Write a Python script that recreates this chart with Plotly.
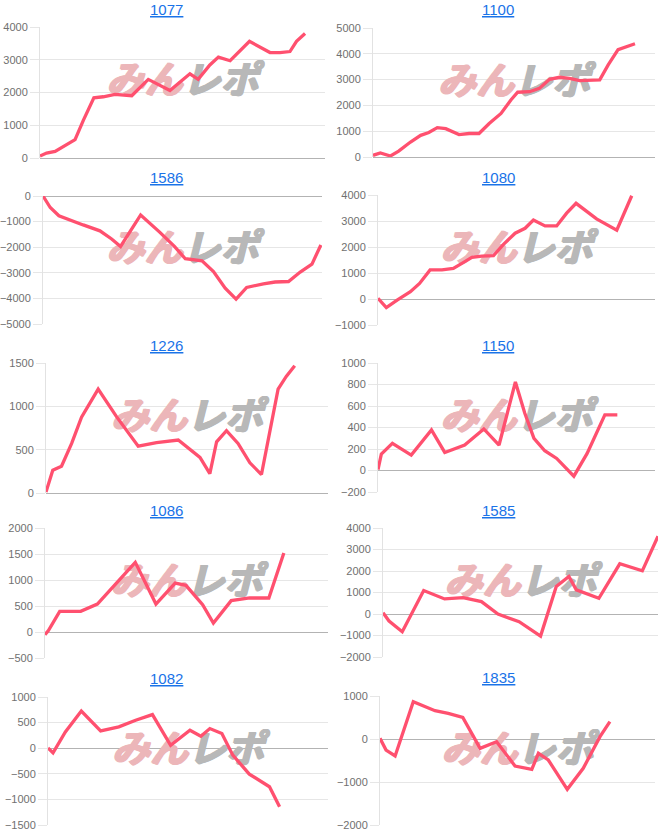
import plotly.graph_objects as go

# ── Data (x = position along the period, 0–100; y = profit) ────────────────
codes = ["1077", "1100", "1586", "1080", "1226", "1150", "1086", "1585", "1082", "1835"]

x_1077 = [0, 2.3, 5.3, 8.8, 12.3, 15.2, 18.9, 22.2, 26.3, 32.2, 38, 45.6, 52.6, 55.5,
          59.6, 62.6, 66.7, 73.5, 80.7, 84.2, 87.7, 90, 93]
y_1077 = [60, 150, 200, 390, 560, 1150, 1840, 1870, 1940, 1900, 2400, 2060, 2570, 2400,
          2840, 3080, 2970, 3560, 3220, 3220, 3250, 3560, 3800]

x_1100 = [0, 2.6, 6.2, 9.1, 13.3, 16.9, 19.8, 22.8, 25.8, 30.5, 34.1, 37.6, 41.2, 45.4,
          48.9, 51.3, 55.5, 59, 62.6, 66.2, 69.7, 73.3, 80.4, 83.4, 86.9, 89.9, 92.9]
y_1100 = [65, 155, 40, 230, 580, 840, 950, 1140, 1100, 870, 910, 910, 1300, 1690,
          2210, 2510, 2530, 2660, 3010, 3090, 3050, 2960, 2990, 3570, 4160, 4290, 4390]

x_1586 = [0, 2.6, 5.7, 9.6, 14.4, 20.4, 24.6, 27.8, 35, 41.9, 47.1, 51, 57, 61.1,
          65.3, 69.2, 73, 79, 83.2, 88, 92.2, 96.4, 99.6]
y_1586 = [0, -450, -770, -940, -1130, -1360, -1680, -1970, -740, -1420, -1970, -2450,
          -2530, -2950, -3600, -4030, -3570, -3430, -3360, -3340, -2970, -2660, -1910]

x_1080 = [0, 3, 6.9, 11.7, 15, 18.8, 23.1, 27.2, 30.9, 33.9, 37.5, 41.7, 45.3, 49.5,
          53.1, 56.1, 60.3, 64.5, 68.1, 71.5, 78.9, 86.2, 91.6]
y_1080 = [25, -330, -40, 280, 600, 1120, 1120, 1180, 1410, 1600, 1650, 1670, 2100, 2530,
          2720, 3040, 2810, 2810, 3300, 3680, 3080, 2650, 3970]

x_1226 = [0, 2.4, 5.5, 9.1, 12.6, 18.5, 25, 32.7, 39.2, 46.9, 54.6, 58.1, 60.5, 64,
          68.1, 72.3, 76.4, 78.7, 82.3, 85.2, 88.2]
y_1226 = [12, 263, 309, 572, 874, 1198, 881, 541, 580, 611, 410, 224, 591, 719,
          572, 348, 213, 611, 1198, 1345, 1469]

x_1150 = [0, 1.2, 5.2, 12, 19.3, 24.1, 31.3, 38.2, 43.7, 49.6, 53, 56.3, 60.2, 64.5,
          70.7, 75.5, 81.9, 86.4]
y_1150 = [9, 153, 252, 143, 377, 168, 237, 387, 237, 823, 533, 299, 184, 112,
          -53, 159, 517, 517]

x_1086 = [0, 1.2, 5.2, 12.6, 18.5, 25.6, 31.9, 39.2, 46, 49.8, 55.7, 59.5, 65.8,
          72.3, 79.1, 84.4]
y_1086 = [-51, 26, 397, 397, 538, 962, 1340, 538, 942, 897, 526, 173, 603,
          654, 654, 1519]

x_1585 = [0, 2.2, 7, 10.9, 14.8, 22.4, 29.1, 35.8, 41.8, 49.5, 57.3, 63, 67.6, 70.3,
          78.5, 86.1, 94.3, 100]
y_1585 = [62, -327, -826, 109, 1090, 701, 763, 576, 0, -358, -1028, 1277, 1745, 1121,
          732, 2336, 2009, 3614]

x_1082 = [0, 1.8, 6.2, 11.9, 18.8, 25.3, 31.3, 37.3, 43.8, 50.7, 54.6, 57.8, 62.1,
          66, 71.9, 79.1, 82.7]
y_1082 = [6, -91, 318, 727, 338, 416, 545, 656, 58, 351, 234, 383, 286,
          -136, -506, -753, -1143]

x_1835 = [0, 2.2, 5.5, 12.1, 20, 24.8, 30.1, 36.4, 42.4, 49.1, 55.2, 57.6, 61.2,
          68.1, 73.9, 80, 83.6]
y_1835 = [16, -256, -395, 868, 659, 597, 504, -217, -62, -628, -705, -333, -488,
          -1171, -682, 54, 403]

y_ranges = [[0, 4000], [0, 5000], [-5000, 0], [-1000, 4000], [0, 1500],
            [-200, 1000], [-500, 2000], [-2000, 4000], [-1500, 1000], [-2000, 1000]]
y_dticks = [1000, 1000, 1000, 1000, 500, 200, 500, 1000, 500, 1000]

series_x = [x_1077, x_1100, x_1586, x_1080, x_1226, x_1150, x_1086, x_1585, x_1082, x_1835]
series_y = [y_1077, y_1100, y_1586, y_1080, y_1226, y_1150, y_1086, y_1585, y_1082, y_1835]

# ── Layout geometry (pixels) ───────────────────────────────────────────────
W, H = 665, 834
boxes = [  # x0, x1, y_top, y_bottom
    (40, 325, 27, 158), (373, 655, 28, 157),
    (43, 322, 196, 324), (378, 655, 195, 325),
    (46, 328, 363, 493), (378, 655, 363, 492),
    (45, 328, 528, 658), (383, 658, 528, 657),
    (48, 328, 697, 825), (380, 655, 696, 825),
]
title_y = [9, 9, 177, 177, 345, 345, 510, 510, 678, 677]
title_x = [166, 498]

line_col = "#ff506f"
grid_col = "#e6e6e6"
tick_col = "#707070"
wm_pink = "#ecb6b9"
wm_gray = "#b8b8b8"


def heavy(c):
    # fake a heavier weight for the watermark glyphs
    return f"1px 0px 0px {c}, 0px 1px 0px {c}, 1px 1px 0px {c}, -1px 0px 0px {c}"


fig = go.Figure()
layout = {}
annotations = []

for i, code in enumerate(codes):
    n = "" if i == 0 else str(i + 1)
    xa, ya = "x" + n, "y" + n
    x0, x1, yt, yb = boxes[i]
    lo, hi = y_ranges[i]

    # ── Watermark (drawn first so the line sits on top) ──
    wy = lo + (hi - lo) * 0.565
    fig.add_trace(go.Scatter(
        x=[50], y=[wy], mode="text", text=["みん"], textposition="middle left",
        textfont=dict(family="Noto Sans CJK JP", size=38, color=wm_pink,
                      weight="bold", style="italic", shadow=heavy(wm_pink)),
        xaxis=xa, yaxis=ya, hoverinfo="skip", showlegend=False,
    ))
    fig.add_trace(go.Scatter(
        x=[50], y=[wy], mode="text", text=["レポ"], textposition="middle right",
        textfont=dict(family="Noto Sans CJK JP", size=38, color=wm_gray,
                      weight="bold", style="italic", shadow=heavy(wm_gray)),
        xaxis=xa, yaxis=ya, hoverinfo="skip", showlegend=False,
    ))

    # ── Profit line ──
    fig.add_trace(go.Scatter(
        x=series_x[i], y=series_y[i], mode="lines",
        line=dict(color=line_col, width=3.3),
        xaxis=xa, yaxis=ya, hoverinfo="skip", showlegend=False,
    ))

    layout["xaxis" + n] = dict(
        domain=[x0 / W, x1 / W], range=[0, 100], anchor=ya,
        showgrid=False, zeroline=False, showline=False, showticklabels=False,
        automargin=False, fixedrange=True,
    )
    layout["yaxis" + n] = dict(
        domain=[1 - yb / H, 1 - yt / H], range=[lo, hi], dtick=y_dticks[i], anchor=xa,
        showgrid=True, gridcolor=grid_col, gridwidth=1,
        zeroline=True, zerolinecolor="#b3b3b3", zerolinewidth=1,
        showline=True, linecolor="#e2e2e2", linewidth=1,
        ticks="outside", ticklen=9, tickcolor=grid_col,
        tickfont=dict(family="Arial, Liberation Sans", size=11, color=tick_col),
        automargin=False, fixedrange=True,
    )

    annotations.append(dict(
        x=title_x[i % 2] / W, y=1 - title_y[i] / H, xref="paper", yref="paper",
        text=f"<u>{code}</u>", showarrow=False, xanchor="center", yanchor="middle",
        font=dict(family="Arial, Liberation Sans", size=15, color="#1a73e8"),
    ))

fig.update_layout(
    **layout,
    annotations=annotations,
    width=W, height=H,
    margin=dict(l=0, r=0, t=0, b=0, autoexpand=False),
    paper_bgcolor="#ffffff", plot_bgcolor="#ffffff",
    showlegend=False,
)

fig.write_html(
    "out.html",
    config={"displayModeBar": False},
    post_script="document.body.style.margin='0';",
)
